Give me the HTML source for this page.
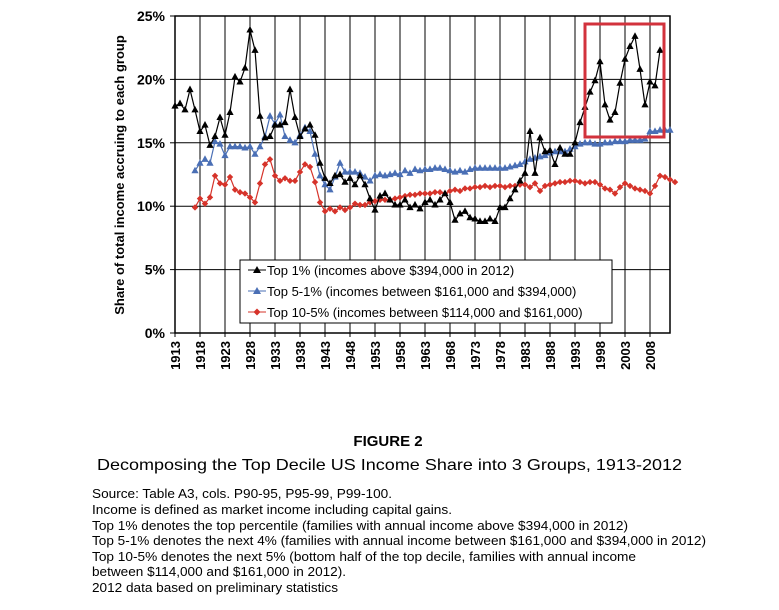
<!DOCTYPE html>
<html><head><meta charset="utf-8"><style>
html,body{margin:0;padding:0;background:#fff;}
svg{display:block;font-family:"Liberation Sans",Arial,sans-serif;}
</style></head><body>
<svg id="chart" width="779" height="610" viewBox="0 0 779 610" xmlns="http://www.w3.org/2000/svg">
<g id="grid"></g>
<g id="axes"></g>
<g id="series"></g>
<rect x="585" y="24" width="79" height="113" fill="none" stroke="#d2323c" stroke-width="3"/>
<g>
<rect x="240" y="260" width="372" height="63" fill="#fff" stroke="#000" stroke-width="1"/>
<g>
<line x1="248" y1="270" x2="266" y2="270" stroke="#000"/><polygon points="257,266 261,273 253,273" fill="#000"/>
<text x="267" y="275" font-size="13">Top 1% (incomes above $394,000 in 2012)</text></g>
<g>
<line x1="248" y1="291" x2="266" y2="291" stroke="#4a6fb5"/><polygon points="257,287 261,294 253,294" fill="#4a6fb5"/>
<text x="267" y="296" font-size="13">Top 5-1% (incomes between $161,000 and $394,000)</text></g>
<g>
<line x1="248" y1="312" x2="266" y2="312" stroke="#d6332a"/><polygon points="257,308.5 260.5,312 257,315.5 253.5,312" fill="#d6332a"/>
<text x="267" y="317" font-size="13">Top 10-5% (incomes between $114,000 and $161,000)</text></g>
</g>
<text transform="translate(124,175) rotate(-90)" text-anchor="middle" font-size="13" font-weight="bold">Share of total income accruing to each group</text>
<text x="388" y="446" text-anchor="middle" font-size="15" font-weight="bold">FIGURE 2</text>
<text x="97" y="470" font-size="16" textLength="585" lengthAdjust="spacingAndGlyphs">Decomposing the Top Decile US Income Share into 3 Groups, 1913-2012</text>
<g font-size="13">
<text x="92" y="498" textLength="300" lengthAdjust="spacingAndGlyphs">Source: Table A3, cols. P90-95, P95-99, P99-100.</text>
<text x="92" y="514" textLength="360" lengthAdjust="spacingAndGlyphs">Income is defined as market income including capital gains.</text>
<text x="92" y="530" textLength="536" lengthAdjust="spacingAndGlyphs">Top 1% denotes the top percentile (families with annual income above $394,000 in 2012)</text>
<text x="92" y="545" textLength="614" lengthAdjust="spacingAndGlyphs">Top 5-1% denotes the next 4% (families with annual income between $161,000 and $394,000 in 2012)</text>
<text x="92" y="561" textLength="544" lengthAdjust="spacingAndGlyphs">Top 10-5% denotes the next 5% (bottom half of the top decile, families with annual income</text>
<text x="92" y="576" textLength="254" lengthAdjust="spacingAndGlyphs">between $114,000 and $161,000 in 2012).</text>
<text x="92" y="592" textLength="246" lengthAdjust="spacingAndGlyphs">2012 data based on preliminary statistics</text>
</g>
</svg>
<script>
const yearsStart = 1913;
const top1 = [17.9,18.1,17.6,19.2,17.6,15.9,16.4,14.8,15.5,17.0,15.6,17.4,20.2,19.8,20.9,23.9,22.3,17.1,15.4,15.5,16.4,16.4,16.6,19.2,17.0,15.5,16.1,16.4,15.6,13.4,12.2,11.8,12.4,12.5,11.9,12.2,11.7,12.4,11.7,10.6,9.7,10.8,11.0,10.5,10.1,10.1,10.5,9.9,10.1,9.8,10.3,10.5,10.1,10.5,11.0,10.3,8.9,9.4,9.6,9.1,9.0,8.8,8.8,9.0,8.8,9.9,9.9,10.6,11.3,12.0,12.6,15.9,12.6,15.4,14.3,14.4,13.3,14.6,14.1,14.1,15.0,16.6,17.8,19.0,19.9,21.4,18.0,16.8,17.4,19.7,21.6,22.6,23.4,20.8,18.0,19.8,19.5,22.3];
const top51Start = 1917;
const top51 = [12.8,13.4,13.7,13.4,15.1,14.9,14.0,14.7,14.7,14.7,14.6,14.7,14.1,14.7,15.5,17.1,16.5,17.2,15.5,15.2,15.0,15.6,16.2,15.9,14.1,12.4,11.7,11.3,12.3,13.4,12.7,12.7,12.7,12.6,12.3,12.0,12.4,12.5,12.4,12.5,12.6,12.5,12.8,12.6,12.9,12.8,12.9,12.9,13.0,13.0,12.9,12.8,12.7,12.8,12.7,12.9,13.0,13.0,13.0,13.0,13.0,13.0,13.0,13.1,13.2,13.3,13.5,13.7,13.8,13.9,14.0,14.2,14.3,14.3,14.3,14.5,14.7,14.9,15.0,15.0,14.9,14.9,15.0,15.0,15.1,15.1,15.1,15.2,15.2,15.2,15.3,15.9,15.9,16.0,16.0,16.0];
const top105 = [9.9,10.6,10.2,10.7,12.4,11.8,11.7,12.3,11.3,11.1,11.0,10.7,10.3,11.8,13.3,13.7,12.4,12.0,12.2,12.0,12.0,12.7,13.3,13.1,11.9,10.3,9.6,9.8,9.6,9.9,9.7,9.9,10.2,10.1,10.1,10.3,10.4,10.5,10.5,10.5,10.6,10.7,10.8,10.9,10.9,11.0,11.0,11.0,11.1,11.1,11.0,11.2,11.3,11.2,11.4,11.4,11.5,11.5,11.6,11.5,11.6,11.6,11.5,11.6,11.6,11.7,11.7,11.5,11.8,11.2,11.6,11.7,11.8,11.9,11.9,12.0,12.0,11.9,11.8,11.9,11.9,11.7,11.4,11.3,11.0,11.5,11.8,11.6,11.4,11.3,11.2,11.0,11.6,12.4,12.3,12.1,11.9];
const yTicks = [0,5,10,15,20,25];
const xTickYears = [1913,1918,1923,1928,1933,1938,1943,1948,1953,1958,1963,1968,1973,1978,1983,1988,1993,1998,2003,2008];

const NS="http://www.w3.org/2000/svg";
const X0=175, PXY=5, Y0=333, PXP=12.68, RIGHT=670, TOP=16;
const xs=yr=>X0+(yr-1913)*PXY;
const ys=v=>Y0-v*PXP;
function mk(tag,attrs,parent){const e=document.createElementNS(NS,tag);for(const k in attrs)e.setAttribute(k,attrs[k]);parent.appendChild(e);return e;}
const grid=document.getElementById('grid'), axes=document.getElementById('axes'), series=document.getElementById('series');
yTicks.forEach(t=>{
  const l=mk('line',{x1:X0,x2:RIGHT,y1:ys(t),y2:ys(t),stroke:'#000','stroke-width':1},grid);
  
  
  const tk=mk('line',{x1:X0-5,x2:X0,y1:ys(t),y2:ys(t),stroke:'#000'},axes);
  
  
  const tx=mk('text',{x:X0-10,y:ys(t)+5,'text-anchor':'end','font-size':14,'font-weight':'bold'},axes);
  tx.textContent=t+'%';
  
  
});
xTickYears.forEach(yr=>{
  const l=mk('line',{x1:xs(yr),x2:xs(yr),y1:TOP,y2:Y0+4,stroke:'#000','stroke-width':1},grid);
  
  
  const tx=mk('text',{transform:`translate(${xs(yr)+5},${Y0+8}) rotate(-90)`,'text-anchor':'end','font-size':13,'font-weight':'bold'},axes);
  tx.textContent=yr;
  
  
});
const frame=mk('rect',{x:X0,y:TOP,width:RIGHT-X0,height:Y0-TOP,fill:'none',stroke:'#000','stroke-width':1.5},axes);



function drawSeries(vals,start,color,marker,name){
  const g=mk('g',{},series);
  
  
  const pts=vals.map((v,i)=>[xs(start+i),ys(v)]);
  const pl=mk('polyline',{points:pts.map(p=>p.join(',')).join(' '),fill:'none',stroke:color,'stroke-width':1.2},g);
  
  
  pts.forEach(([x,y])=>{
    let m;
    if(marker==='tri') m=mk('polygon',{points:`${x},${y-4} ${x+3.6},${y+2.6} ${x-3.6},${y+2.6}`,fill:color},g);
    else m=mk('polygon',{points:`${x},${y-3.2} ${x+3.2},${y} ${x},${y+3.2} ${x-3.2},${y}`,fill:color},g);
    
    
  });
}
drawSeries(top105,1917,'#d6332a','dia','series-top10-5');
drawSeries(top51,top51Start,'#4a6fb5','tri','series-top5-1');
drawSeries(top1,yearsStart,'#000','tri','series-top1');
</script>
</body></html>
